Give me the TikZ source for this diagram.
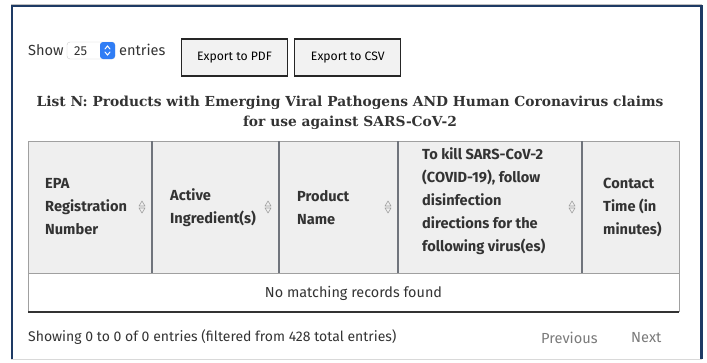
\documentclass[tikz,border=0pt]{standalone}
\usepackage{fontspec}
\setmainfont{Fira Sans}
\newfontfamily\titlefont{DejaVu Serif}
\usetikzlibrary{positioning}

\definecolor{framenavy}{HTML}{1E3A64}
\definecolor{headfill}{HTML}{EFEFEF}
\definecolor{gridgrey}{HTML}{70747C}
\definecolor{rulegrey}{HTML}{A0A0A0}
\definecolor{textgrey}{HTML}{333333}
\definecolor{pagegrey}{HTML}{7A7A7A}
\definecolor{selblue}{HTML}{2F7DF5}

\tikzset{
  headtext/.style={anchor=west,align=left,inner sep=0pt,text=textgrey,
    font=\bfseries\fontsize{14.6}{23}\selectfont},
  btn/.style={draw=black!85,line width=1.3pt,fill=black!5,minimum width=106pt,
    minimum height=37pt,inner sep=0pt,font=\fontsize{12.2}{15}\selectfont},
  plain/.style={inner sep=0pt,text=textgrey,font=\fontsize{14}{17}\selectfont},
  sortarrows/.pic={
    \draw[rulegrey,line width=0.6pt,line join=round] (-3,-1) -- (3,-1) -- (0,-6) -- cycle;
    \draw[rulegrey,line width=0.6pt,line join=round] (-3,1) -- (3,1) -- (0,6) -- cycle;
  }
}

\begin{document}
\begin{tikzpicture}[x=1pt,y=-1pt]
\useasboundingbox (0,0) rectangle (707,362);

% outer frame
\draw[black!25,line width=0.8pt] (11,4.5) -- (702,4.5);
\draw[black!15,line width=0.8pt] (11,359.5) -- (702,359.5);
\draw[framenavy,line width=2.2pt] (12,359) -- (12,6) -- (701.5,6) -- (701.5,359);

% length selector
\node[plain,anchor=base west,font=\fontsize{14.6}{17}\selectfont] (show) at (28,55) {Show};
\draw[black!20,fill=white,rounded corners=3pt] (67,42) rectangle (115,59);
\node[plain,anchor=base west,font=\fontsize{13}{15}\selectfont] (len) at (74,55) {25};
\node[fill=selblue,rounded corners=3pt,minimum width=15pt,minimum height=17pt,inner sep=0pt] (spin) at (107.5,50.5) {};
\draw[white,line width=1pt,line cap=round] ([xshift=-2.5,yshift=-1.5]spin.center) -- ([yshift=-4.5]spin.center) -- ([xshift=2.5,yshift=-1.5]spin.center);
\draw[white,line width=1pt,line cap=round] ([xshift=-2.5,yshift=1.5]spin.center) -- ([yshift=4.5]spin.center) -- ([xshift=2.5,yshift=1.5]spin.center);
\node[plain,anchor=base west,font=\fontsize{14.6}{17}\selectfont] (entries) at (119,55) {entries};

% export buttons
\node[btn] (pdf) at (234.5,57.5) {Export to PDF};
\node[btn,right=6pt of pdf] (csv) {Export to CSV};

% title
\node[inner sep=0pt,align=center,text=textgrey,
  font=\titlefont\bfseries\fontsize{13.8}{20}\selectfont] (title) at (350,112.5)
  {List N: Products with Emerging Viral Pathogens AND Human Coronavirus claims\\
   for use against SARS-CoV-2};

% table header
\fill[headfill] (28,141) rectangle (679,273);
\draw[rulegrey,line width=0.8pt] (28,273) -- (28,141) -- (679,141) -- (679,273);
\foreach \cx in {152,279,398,582}
  \draw[gridgrey,line width=1.1pt] (\cx,141) -- (\cx,273);
\draw[rulegrey,line width=0.8pt] (28,273) -- (679,273);

\node[headtext] (colepa) at (45,207) {EPA\\Registration\\Number};
\node[headtext] (colactive) at (170,207.5) {Active\\Ingredient(s)};
\node[headtext] (colproduct) at (297,207.5) {Product\\Name};
\node[headtext] (colkill) at (422,201.5) {To kill SARS-CoV-2\\(COVID-19), follow\\disinfection\\directions for the\\following virus(es)};
\node[headtext] (colcontact) at (603,207) {Contact\\Time (in\\minutes)};

\pic at (142,207) {sortarrows};
\pic at (268,207) {sortarrows};
\pic at (388,207) {sortarrows};
\pic at (572,207) {sortarrows};

% empty row
\draw[rulegrey,line width=0.8pt] (28,273) -- (28,312);
\draw[rulegrey,line width=0.8pt] (679,273) -- (679,312);
\draw[black!80,line width=1.3pt] (28,312) -- (679,312);
\node[plain,font=\fontsize{14.4}{17}\selectfont] (empty) at (353.5,293) {No matching records found};

% footer
\node[plain,anchor=west] (info) at (28,337) {Showing 0 to 0 of 0 entries (filtered from 428 total entries)};
\node[plain,anchor=west,text=pagegrey,font=\fontsize{14.6}{17}\selectfont] (prev) at (541,338) {Previous};
\node[plain,anchor=west,text=pagegrey,font=\fontsize{14.6}{17}\selectfont] (next) at (631,338) {Next};
\end{tikzpicture}
\end{document}
